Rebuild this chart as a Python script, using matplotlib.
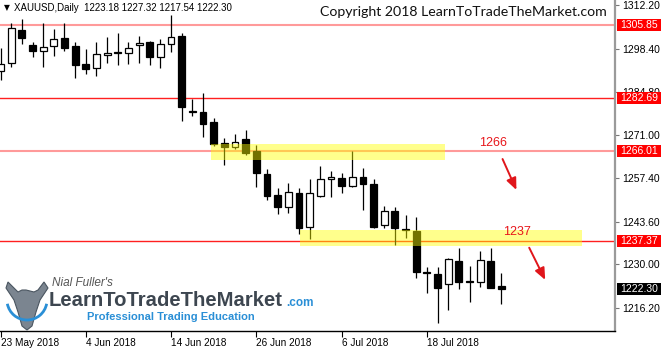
import matplotlib
matplotlib.use("Agg")
import matplotlib.pyplot as plt
import matplotlib.patches as mpatches
import matplotlib.transforms as mtrans

# ---------------- data ----------------
date_ticks = [0, 8, 16, 24, 32, 40]
date_labels = ["23 May 2018", "4 Jun 2018", "14 Jun 2018", "26 Jun 2018", "6 Jul 2018", "18 Jul 2018"]

opens = [1291.3, 1293.8, 1304.3, 1299.5, 1297.6, 1299.2, 1301.7, 1299.2, 1293.5, 1292.2,
         1296.5, 1297.2, 1297.0, 1299.5, 1300.5, 1295.7, 1299.8, 1302.4, 1278.6, 1278.3,
         1275.1, 1268.5, 1267.2, 1269.7, 1265.9, 1258.65, 1252.0, 1248.2, 1252.6, 1241.9,
         1251.7, 1257.1, 1257.4, 1254.85, 1257.7, 1255.5, 1242.5, 1246.9, 1241.2, 1240.6,
         1227.6, 1227.0, 1223.8, 1231.1, 1224.75, 1224.4, 1231.1, 1223.18]
highs = [1298.6, 1306.5, 1307.8, 1300.5, 1306.5, 1304.6, 1306.5, 1300.5, 1298.3, 1300.5,
         1302.1, 1303.3, 1300.5, 1302.4, 1300.8, 1301.4, 1309.0, 1303.3, 1282.4, 1284.3,
         1276.4, 1270.1, 1271.3, 1272.6, 1267.8, 1260.2, 1254.2, 1255.8, 1254.2, 1257.1,
         1261.2, 1259.6, 1259.0, 1265.9, 1260.55, 1257.1, 1248.5, 1248.2, 1245.7, 1245.0,
         1229.2, 1229.2, 1231.9, 1235.2, 1229.5, 1234.25, 1235.2, 1227.32]
lows = [1288.4, 1292.55, 1299.8, 1295.7, 1292.55, 1296.0, 1297.6, 1289.1, 1290.3, 1289.7,
        1293.8, 1293.2, 1293.5, 1293.8, 1293.2, 1292.2, 1297.3, 1275.4, 1277.0, 1270.4,
        1267.5, 1261.5, 1266.6, 1264.7, 1254.5, 1250.4, 1246.0, 1246.3, 1239.6, 1238.05,
        1251.5, 1251.4, 1252.6, 1254.6, 1247.2, 1241.5, 1241.5, 1236.15, 1238.4, 1225.7,
        1220.9, 1211.4, 1215.6, 1222.2, 1218.1, 1222.85, 1222.4, 1217.54]
closes = [1293.5, 1304.9, 1301.7, 1297.6, 1298.9, 1301.4, 1298.6, 1293.2, 1291.9, 1296.7,
          1296.9, 1297.0, 1298.6, 1300.2, 1295.7, 1299.8, 1302.1, 1279.9, 1278.3, 1274.5,
          1268.2, 1267.2, 1268.8, 1265.3, 1259.0, 1251.7, 1248.2, 1252.95, 1241.5, 1252.6,
          1257.1, 1257.7, 1254.85, 1257.7, 1255.5, 1241.9, 1246.9, 1241.5, 1240.9, 1227.6,
          1227.3, 1222.5, 1231.7, 1224.4, 1224.3, 1231.4, 1222.5, 1222.30]

ytick_values = [1312.20, 1298.40, 1284.80, 1271.00, 1257.40, 1243.60, 1230.00, 1216.20]
level_values = [1305.85, 1282.69, 1266.01, 1237.37]
level_colors = ["#ff9a9a", "#ff2020", "#ff9a9a", "#ff2020"]
level_widths = [1.5, 1.0, 1.5, 1.0]
last_price = 1222.30

zone_upper = (1263.25, 1268.16)   # (bottom, top)
zone_upper_x = (19.7, 41.7)
zone_lower = (1235.93, 1240.90)
zone_lower_x = (28.1, 54.6)

note_labels = ["1266", "1237"]
note_pos = [(46.2, 1268.5), (48.5, 1240.3)]
arrow_start = [(47.1, 1263.4), (49.6, 1235.3)]
arrow_end = [(48.4, 1253.6), (51.1, 1225.1)]

header = "XAUUSD,Daily  1223.18 1227.32 1217.54 1222.30"

# ---------------- figure ----------------
FONT = "Liberation Sans"
W, H = 661, 348
fig = plt.figure(figsize=(W / 100, H / 100), dpi=100)
ax_right_px = 615
ax_bottom_px = 331
ax = fig.add_axes([0, 1 - ax_bottom_px / H, ax_right_px / W, ax_bottom_px / H])
ax.set_xlim(-0.05, 57.65)
ax.set_ylim(1208.9, 1313.8)

for s in ["top", "left"]:
    ax.spines[s].set_visible(False)
ax.spines["right"].set_color("#9a9a9a")
ax.spines["right"].set_linewidth(1.6)
ax.spines["bottom"].set_color("black")
ax.spines["bottom"].set_linewidth(1.0)

# horizontal levels
for v, c, w in zip(level_values, level_colors, level_widths):
    ax.axhline(v, color=c, lw=w, zorder=1)

# candles
xs = list(range(len(opens)))
ax.vlines(xs, lows, highs, color="black", lw=0.9, zorder=2)
bw = 0.64
for x, o, c in zip(xs, opens, closes):
    bottom = min(o, c)
    h = abs(c - o)
    face = "white" if c > o else "black"
    ax.add_patch(mpatches.Rectangle((x - bw / 2, bottom), bw, h, facecolor=face,
                                    edgecolor="black", lw=0.9, zorder=3))

# yellow zones (on top, translucent)
for (yb, yt), (x0, x1) in [(zone_upper, zone_upper_x), (zone_lower, zone_lower_x)]:
    ax.add_patch(mpatches.Rectangle((x0, yb), x1 - x0, yt - yb, facecolor="#ffff00",
                                    edgecolor="none", alpha=0.45, zorder=4))

# notes & arrows
for lab, (tx, ty) in zip(note_labels, note_pos):
    ax.text(tx, ty, lab, color="#e8161b", fontsize=9, ha="center", va="center",
            family=FONT, zorder=5)
for (sx, sy), (ex, ey) in zip(arrow_start, arrow_end):
    ax.annotate("", xy=(ex, ey), xytext=(sx, sy),
                arrowprops=dict(arrowstyle="-|>,head_length=0.7,head_width=0.3",
                                color="#e0161b", lw=1.4, shrinkA=0, shrinkB=0), zorder=5)

# y axis on right
ax.yaxis.tick_right()
ax.set_yticks(ytick_values)
ax.set_yticklabels([f"{v:.2f}" for v in ytick_values], family=FONT)
ax.tick_params(axis="y", direction="out", length=3, width=0.8, color="#777777",
               labelsize=7.5, pad=2)
# x axis
ax.set_xticks(date_ticks)
ax.set_xticklabels(date_labels, ha="left", family=FONT)
ax.tick_params(axis="x", direction="out", length=4, width=0.8, color="black",
               labelsize=7.2, pad=1)

# price tags on right axis
blend = mtrans.blended_transform_factory(fig.transFigure, ax.transData)
tag_h = 12 / ax_bottom_px * (1313.8 - 1208.9)
for v, col in [(level_values[0], "#ff0000"), (level_values[1], "#ff0000"),
               (level_values[2], "#ff0000"), (level_values[3], "#ff0000"),
               (last_price, "#000000")]:
    r = mpatches.Rectangle((617 / W, v - tag_h / 2), 44 / W, tag_h, transform=blend,
                           facecolor=col, edgecolor="none", clip_on=False, zorder=6)
    fig.add_artist(r)
    fig.text(620 / W, v, f"{v:.2f}", transform=blend, color="white", fontsize=7.5,
             va="center", ha="left", family=FONT, zorder=7)

# header
fig.text(4 / W, 1 - 8 / H, "\u25bc", fontsize=5.5, va="center", ha="left")
fig.text(14 / W, 1 - 8 / H, header, fontsize=7.0, va="center", ha="left", family=FONT)

# copyright
fig.text(607 / W, 1 - 12 / H, "Copyright 2018 LearnToTradeTheMarket.com", fontsize=10.2,
         family="Lato", va="center", ha="right", color="#111111")

# logo
fig.text(52 / W, 1 - 283 / H, "Nial Fuller's", fontsize=8.5, style="italic",
         color="#555555", va="center", ha="left", family=FONT)
fig.text(49 / W, 1 - 301 / H, "LearnToTradeTheMarket", fontsize=14.6, weight="bold",
         color="#3d4650", va="center", ha="left", family=FONT)
fig.text(286 / W, 1 - 303 / H, ".com", fontsize=8.5, weight="bold",
         color="#2a8fd6", va="center", ha="left", family=FONT)
fig.text(87 / W, 1 - 317 / H, "Professional Trading Education", fontsize=8,
         weight="bold", color="#2a8fd6", va="center", ha="left", family=FONT)
# simplified bull icon
bull_x = [8, 18, 22, 26, 34, 38, 44, 48, 40, 36, 32, 27, 22, 18, 14, 6]
bull_y = [282, 292, 290, 290, 292, 290, 282, 288, 300, 312, 326, 330, 326, 312, 300, 288]
fig.add_artist(mpatches.Polygon([(x / W, 1 - y / H) for x, y in zip(bull_x, bull_y)],
                                closed=True, facecolor="#7b8590", edgecolor="#4a5560",
                                lw=0.8, transform=fig.transFigure))
fig.add_artist(mpatches.Arc((27 / W, 1 - 300 / H), 40 / W, 40 / H, theta1=200, theta2=340,
                            color="#2a8fd6", lw=2, transform=fig.transFigure))

fig.savefig("out.png", dpi=100)
